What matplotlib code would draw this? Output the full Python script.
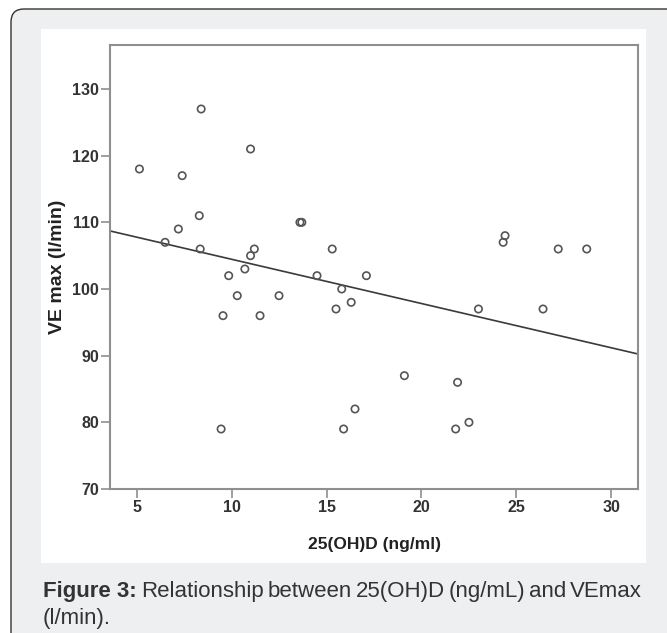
import matplotlib
matplotlib.use("Agg")
import matplotlib.pyplot as plt
from matplotlib import font_manager
from matplotlib.patches import FancyBboxPatch, Rectangle
import numpy as np

# data
vitd = [5.15, 6.5, 7.2, 7.4, 8.3, 8.35, 8.4, 9.45, 9.55, 9.85, 10.3, 10.7,
        11.0, 11.0, 11.2, 11.5, 12.5, 13.6, 13.7, 14.5, 15.3, 15.5, 15.8,
        15.9, 16.3, 16.5, 17.1, 19.1, 21.8, 21.9, 22.5, 23.0, 24.3, 24.4,
        26.4, 27.2, 28.7]
vemax = [118, 107, 109, 117, 111, 106, 127, 79, 96, 102, 99, 103,
         105, 121, 106, 96, 99, 110, 110, 102, 106, 97, 100,
         79, 98, 82, 102, 87, 79, 86, 80, 97, 107, 108,
         97, 106, 106]
fit_intercept = 111.1
fit_slope = -0.664
x_ticks = [5, 10, 15, 20, 25, 30]
y_ticks = [70, 80, 90, 100, 110, 120, 130]
caption_bold = ["Figure 3:"]
caption_words = ["Relationship", "between", "25(OH)D", "(ng/mL)", "and", "VEmax"]
caption_line2 = "(l/min)."

installed = {f.name for f in font_manager.fontManager.ttflist}
narrow = "Liberation Sans Narrow" if "Liberation Sans Narrow" in installed else "Liberation Sans"

W, H = 667, 633
fig = plt.figure(figsize=(W / 100, H / 100), dpi=100, facecolor="white")

# background layer in pixel coords
bg = fig.add_axes([0, 0, 1, 1], zorder=0)
bg.set_xlim(0, W)
bg.set_ylim(H, 0)
bg.axis("off")
bg.add_patch(FancyBboxPatch((11, 9), 700, 640, boxstyle="round,pad=0,rounding_size=13",
                            facecolor="#eeeff1", edgecolor="#333333", linewidth=1.0))
bg.add_patch(Rectangle((41, 29), 605, 534, facecolor="white", edgecolor="none"))

# main scatter
ax = fig.add_axes([110 / W, 1 - 489 / H, 528 / W, 444 / H], zorder=2)
ax.scatter(vitd, vemax, s=28, facecolors="none", edgecolors="#555555", linewidths=1.2, zorder=3)
xl = np.array([3.6, 31.4])
ax.plot(xl, fit_intercept + fit_slope * xl, color="#3a3a3a", linewidth=1.2, zorder=2)

ax.set_xlim(3.6, 31.4)
ax.set_ylim(70, 136.6)
ax.set_xticks(x_ticks)
ax.set_yticks(y_ticks)
for sp in ax.spines.values():
    sp.set_color("#8f8f8f")
    sp.set_linewidth(1.5)
ax.tick_params(direction="out", length=6.5, width=1.2, color="#8f8f8f", pad=1.5)
for lab in ax.get_xticklabels() + ax.get_yticklabels():
    lab.set_fontfamily(narrow)
    lab.set_fontweight("bold")
    lab.set_fontsize(11.5)
    lab.set_color("#333333")
ax.set_xlabel("25(OH)D (ng/ml)", fontfamily="Liberation Sans", fontweight="bold",
              fontsize=12.5, color="#222222", labelpad=16)
ax.set_ylabel("VE max (l/min)", fontfamily="Liberation Sans", fontweight="bold",
              fontsize=14, color="#222222", labelpad=4)

# justified caption
fig.canvas.draw()
r = fig.canvas.get_renderer()
tok = []
for w in caption_bold:
    tok.append(bg.text(0, 597, w, fontsize=16, fontweight="bold", color="#333333",
                       fontfamily="Liberation Sans", va="baseline"))
for w in caption_words:
    tok.append(bg.text(0, 597, w, fontsize=16, color="#333333",
                       fontfamily="Liberation Sans", va="baseline"))
widths = [t.get_window_extent(r).width for t in tok]
x0, x1 = 43, 642
gap = (x1 - x0 - sum(widths)) / (len(tok) - 1)
xp = x0
for t, w in zip(tok, widths):
    t.set_x(xp)
    xp += w + gap
bg.text(43, 624, caption_line2, fontsize=16, color="#333333",
        fontfamily="Liberation Sans", va="baseline")

fig.savefig("out.png", dpi=100, facecolor="white")
